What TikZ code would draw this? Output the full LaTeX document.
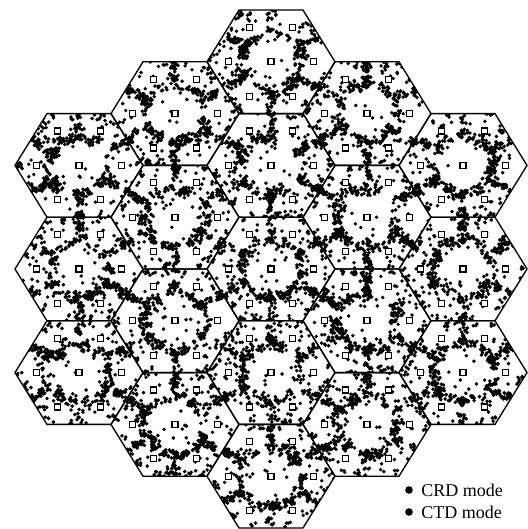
\documentclass[tikz,border=0pt]{standalone}
\usepackage{fontspec}
\setmainfont{Liberation Serif}
\tikzset{
  celledge/.style={line width=1pt, black},
  stationbox/.style={draw=black, fill=white, line width=0.9pt, minimum size=4.6pt, inner sep=0pt, outer sep=0pt},
  userdot/.style={draw=black, line width=2.9pt, line cap=round},
  legenddot/.style={fill=black},
  legendtext/.style={anchor=west, font=\fontsize{13.5}{15}\selectfont, inner sep=0pt}
}
\begin{document}
\begin{tikzpicture}[x=0.75pt,y=-0.75pt]
\useasboundingbox (0,0) rectangle (528,529);
\pgfmathsetseed{4242}
\def\HA{64}
\def\HB{59.8}
% users (dots), clipped per cell
\foreach \k/\m in {0/-4,0/-2,0/0,0/2,0/4,-1/-3,-1/-1,-1/1,-1/3,1/-3,1/-1,1/1,1/3,-2/-2,-2/0,-2/2,2/-2,2/0,2/2}{
  \pgfmathsetmacro\cx{271+96*(\k)}
  \pgfmathsetmacro\cy{269+51.8*(\m)}
  \begin{scope}
    \clip (\cx+64,\cy) -- (\cx+32,\cy+51.8) -- (\cx-32,\cy+51.8) -- (\cx-64,\cy) -- (\cx-32,\cy-51.8) -- (\cx+32,\cy-51.8) -- cycle;
    % ring around the direct-transmission zone
    \foreach \i in {1,...,48}{
      \pgfmathsetmacro\th{180*rand}
      \pgfmathsetmacro\rr{0.48+0.07*rand}
      \pgfmathsetmacro\px{\cx+\HA*\rr*cos(\th)}
      \pgfmathsetmacro\py{\cy+\HB*\rr*sin(\th)}
      \draw[userdot] ({\px+3.5*rand},{\py+3.5*rand}) -- ++(0,0)
                     ({\px+3.5*rand},{\py+3.5*rand}) -- ++(0,0)
                     ({\px+3.5*rand},{\py+3.5*rand}) -- ++(0,0)
                     ({\px+3.5*rand},{\py+3.5*rand}) -- ++(0,0);
    }
    % radial boundaries between relay regions
    \foreach \i in {1,...,50}{
      \pgfmathsetmacro\th{30+60*random(0,5)}
      \pgfmathsetmacro\tt{0.45+0.47*rnd}
      \pgfmathsetmacro\oo{0.04*rand}
      \pgfmathsetmacro\px{\cx+\HA*(\tt*cos(\th)-\oo*sin(\th))}
      \pgfmathsetmacro\py{\cy+\HB*(\tt*sin(\th)+\oo*cos(\th))}
      \draw[userdot] ({\px+3*rand},{\py+3*rand}) -- ++(0,0)
                     ({\px+3*rand},{\py+3*rand}) -- ++(0,0)
                     ({\px+3*rand},{\py+3*rand}) -- ++(0,0)
                     ({\px+3*rand},{\py+3*rand}) -- ++(0,0);
    }
    % cell-edge users
    \foreach \i in {1,...,20}{
      \pgfmathsetmacro\th{60*random(0,5)}
      \pgfmathsetmacro\ss{rnd}
      \pgfmathsetmacro\px{\cx+\HA*0.94*((1-\ss)*cos(\th)+\ss*cos(\th+60))}
      \pgfmathsetmacro\py{\cy+\HB*0.94*((1-\ss)*sin(\th)+\ss*sin(\th+60))}
      \draw[userdot] ({\px+3*rand},{\py+3*rand}) -- ++(0,0)
                     ({\px+3*rand},{\py+3*rand}) -- ++(0,0)
                     ({\px+3*rand},{\py+3*rand}) -- ++(0,0);
    }
    % scattered users
    \foreach \i in {1,...,32}{
      \draw[userdot]
        \foreach \j in {1,2,3}{
          ({\cx+\HA*(0.44+0.56*rnd)*cos(\j*120+120*rnd)},{\cy+\HB*(0.44+0.56*rnd)*sin(\j*120+120*rnd)}) -- ++(0,0)
        };
    }
  \end{scope}
}
% cell boundaries and stations
\foreach \k/\m in {0/-4,0/-2,0/0,0/2,0/4,-1/-3,-1/-1,-1/1,-1/3,1/-3,1/-1,1/1,1/3,-2/-2,-2/0,-2/2,2/-2,2/0,2/2}{
  \pgfmathsetmacro\cx{271+96*(\k)}
  \pgfmathsetmacro\cy{269+51.8*(\m)}
  \draw[celledge] (\cx+64,\cy) -- (\cx+32,\cy+51.8) -- (\cx-32,\cy+51.8) -- (\cx-64,\cy) -- (\cx-32,\cy-51.8) -- (\cx+32,\cy-51.8) -- cycle;
  \node[stationbox] (bs\k\m) at (\cx,\cy) {};
  \foreach \a in {0,60,...,300}{
    \node[stationbox] (rs\k\m\a) at ({\cx+42.5*cos(\a)},{\cy+39.7*sin(\a)}) {};
  }
}
% legend
\fill[legenddot] (409,490) circle (3.8);
\node[legendtext] (crd) at (421,490) {CRD mode};
\fill[legenddot] (409,512) circle (3.8);
\node[legendtext] (ctd) at (421,512) {CTD mode};
\end{tikzpicture}
\end{document}
